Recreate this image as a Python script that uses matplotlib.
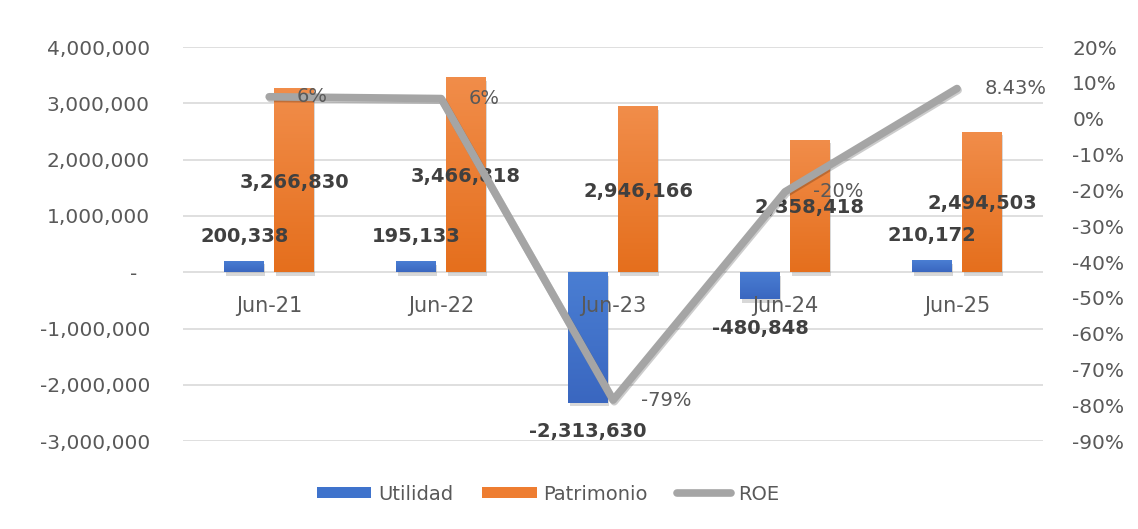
import numpy as np
import matplotlib
matplotlib.use("Agg")
import matplotlib.pyplot as plt
from matplotlib import patheffects as pe
from matplotlib.patches import Patch
from matplotlib.lines import Line2D
from matplotlib.ticker import FuncFormatter, MultipleLocator

categories = ["Jun-21", "Jun-22", "Jun-23", "Jun-24", "Jun-25"]
utilidad = [200338, 195133, -2313630, -480848, 210172]
patrimonio = [3266830, 3466818, 2946166, 2358418, 2494503]
roe = [0.0613, 0.0563, -0.7853, -0.2039, 0.0843]
roe_labels = ["6%", "6%", "-79%", "-20%", "8.43%"]

plt.rcParams["font.family"] = ["DejaVu Sans"]
TXT = "#595959"
LBL = "#404040"

fig = plt.figure(figsize=(11.38, 5.29), dpi=100)
ax = fig.add_axes([0.161, 0.166, 0.7555, 0.745])
x = np.arange(len(categories))
w = 0.23
off = 0.145

shadow = [pe.SimplePatchShadow(offset=(1, -2.5), shadow_rgbFace="#7f7f7f", alpha=0.3), pe.Normal()]


def grad_bars(xs, vals, top, bot):
    bars = ax.bar(xs, vals, width=w, color=bot, zorder=3)
    cmap = matplotlib.colors.LinearSegmentedColormap.from_list("g", [top, bot])
    grad = np.linspace(0, 1, 100).reshape(-1, 1)
    for b in bars:
        b.set_path_effects(shadow)
        x0, y0 = b.get_x(), b.get_y()
        x1, y1 = x0 + b.get_width(), y0 + b.get_height()
        lo, hi = min(y0, y1), max(y0, y1)
        im = ax.imshow(grad, cmap=cmap, extent=[x0, x1, lo, hi], aspect="auto", zorder=3.5,
                       origin="upper")
        im.set_clip_path(b)
    return bars


grad_bars(x - off, utilidad, "#4a7ed3", "#3a67c0")
grad_bars(x + off, patrimonio, "#f18d4a", "#e56f1d")

ax.set_xlim(-0.5, len(categories) - 0.5)
ax.set_ylim(-3e6, 4e6)
ax.yaxis.set_major_locator(MultipleLocator(1e6))
ax.yaxis.set_major_formatter(FuncFormatter(lambda v, p: "-  " if abs(v) < 1 else f"{v:,.0f}"))
ax.grid(axis="y", color="#d9d9d9", lw=1.2, zorder=0)
ax.set_axisbelow(True)
for s in ax.spines.values():
    s.set_visible(False)
ax.set_xticks([])
ax.tick_params(axis="y", length=0, pad=24, labelsize=14.5, labelcolor=TXT)

for xi, c in zip(x, categories):
    ax.annotate(c, (xi, 0), xytext=(0, -24), textcoords="offset points", ha="center",
                va="center", fontsize=15, color=TXT, zorder=4)

for xi, v in zip(x, utilidad):
    ax.annotate(f"{v:,.0f}", (xi - off, v), xytext=(0, 18 if v > 0 else -21),
                textcoords="offset points", ha="center", va="center", fontsize=14,
                fontweight="bold", color=LBL, zorder=6)

for xi, v in zip(x, patrimonio):
    ax.annotate(f"{v:,.0f}", (xi + off, v * 0.49), ha="center", va="center", fontsize=14,
                fontweight="bold", color=LBL, zorder=6)

ax2 = ax.twinx()
ax2.set_ylim(-0.9, 0.2)
ax2.yaxis.set_major_locator(MultipleLocator(0.1))
ax2.yaxis.set_major_formatter(FuncFormatter(lambda v, p: f"{v * 100:.0f}%"))
for s in ax2.spines.values():
    s.set_visible(False)
ax2.tick_params(axis="y", length=0, pad=21, labelsize=14.5, labelcolor=TXT)
ax2.plot(x, roe, color="#a5a5a5", lw=5.5, solid_capstyle="round", solid_joinstyle="round",
         zorder=5, path_effects=[pe.SimpleLineShadow(offset=(0.8, -1.2), alpha=0.2), pe.Normal()])
for xi, v, t in zip(x, roe, roe_labels):
    ax2.annotate(t, (xi, v), xytext=(20, 0), textcoords="offset points", ha="left",
                 va="center", fontsize=14, color=TXT, zorder=6)

handles = [Patch(facecolor="#3f73cc", label="Utilidad"),
           Patch(facecolor="#ee7d31", label="Patrimonio"),
           Line2D([0], [0], color="#a5a5a5", lw=5.5, solid_capstyle="round", label="ROE")]
fig.legend(handles=handles, loc="center", bbox_to_anchor=(548 / 1138, 1 - 494 / 529), ncol=3,
           frameon=False, fontsize=14, handlelength=2.8, handleheight=0.55, columnspacing=1.5,
           handletextpad=0.35, labelcolor=TXT)

fig.savefig("out.png", dpi=100, facecolor="white")
